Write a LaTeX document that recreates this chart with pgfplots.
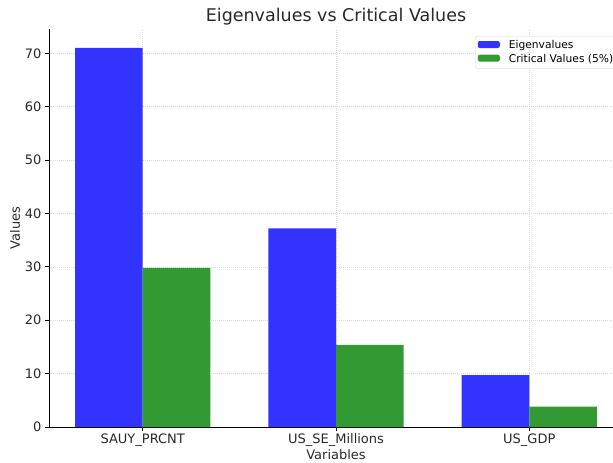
\documentclass[border=0pt]{standalone}
\usepackage{pgfplots}
\pgfplotsset{compat=1.18}
\usepackage{fontspec}
\setmainfont{DejaVu Sans}
\definecolor{eigblue}{RGB}{51,51,255}
\definecolor{critgreen}{RGB}{51,153,51}
\definecolor{txt}{RGB}{40,40,40}
\begin{document}
\begin{tikzpicture}
\begin{axis}[
  at={(49pt,36pt)}, anchor=south west,
  scale only axis, width=574pt, height=398pt,
  xmin=-0.485, xmax=2.485, ymin=0, ymax=74.55,
  xtick={0,1,2},
  xticklabels={SAUY\_PRCNT, US\_SE\_Millions, US\_GDP},
  ytick={0,10,20,30,40,50,60,70},
  axis x line*=bottom, axis y line*=left,
  axis line style={black, line width=0.8pt, -},
  tick style={black, line width=0.8pt},
  tick align=outside, major tick length=4pt,
  xmajorgrids, ymajorgrids,
  major grid style={dash pattern=on 1pt off 1pt, gray!30, line width=0.6pt},
  tick label style={font=\fontsize{13}{15}\selectfont, text=txt},
  xticklabel style={yshift=1pt},
  /pgf/number format/assume math mode=true,
  xlabel={Variables}, ylabel={Values},
  label style={font=\fontsize{13}{15}\selectfont, text=txt},
  xlabel style={yshift=4pt},
  ylabel style={yshift=-2pt},
  title={Eigenvalues vs Critical Values},
  title style={font=\fontsize{17.5}{19}\selectfont, text=txt, yshift=-6pt},
  legend style={at={(1,1)}, anchor=north east, xshift=-5pt, yshift=-7pt,
    font=\fontsize{10.7}{12}\selectfont, draw=gray!30, rounded corners=2pt,
    legend cell align=left, row sep=0pt, inner sep=2.5pt},
  legend image code/.code={\fill[#1] (0pt,-2.5pt) rectangle (22pt,4.5pt); \path (29pt,0pt);},
  clip=false,
]
\addplot[ybar, bar width=0.35, bar shift=-0.175, fill=eigblue, draw=none]
  coordinates {(0,71.0) (1,37.2) (2,9.7)};
\addlegendentry{Eigenvalues}
\addplot[ybar, bar width=0.35, bar shift=0.175, fill=critgreen, draw=none]
  coordinates {(0,29.8) (1,15.4) (2,3.8)};
\addlegendentry{Critical Values (5\%)}
\end{axis}
\pgfresetboundingbox
\useasboundingbox (0,0) rectangle (613pt,463pt);
\end{tikzpicture}
\end{document}
